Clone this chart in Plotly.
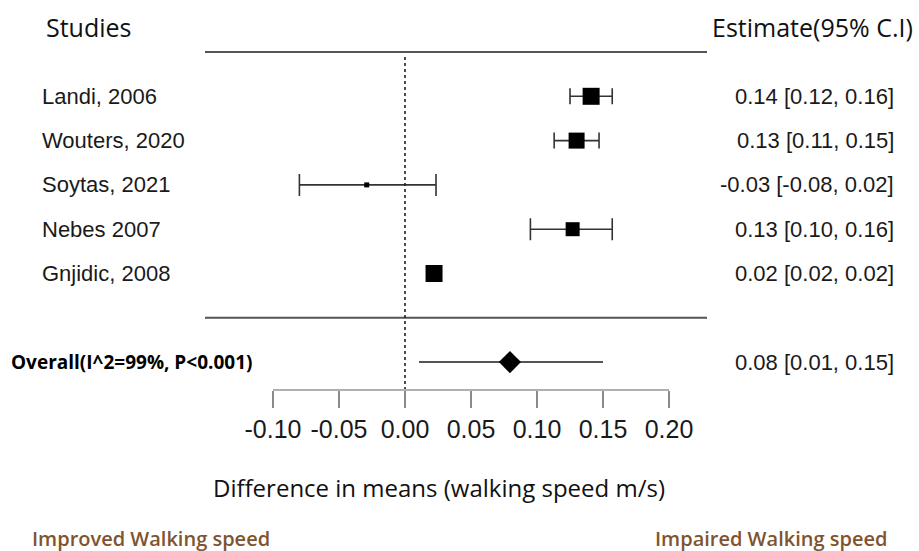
import plotly.graph_objects as go

# ---------------- data ----------------
studies = ["Landi, 2006", "Wouters, 2020", "Soytas, 2021", "Nebes 2007", "Gnjidic, 2008"]
estimate = [0.141, 0.130, -0.029, 0.127, 0.022]
ci_low = [0.125, 0.113, -0.080, 0.095, 0.021]
ci_high = [0.157, 0.147, 0.0235, 0.157, 0.023]
estimate_labels = ["0.14 [0.12, 0.16]", "0.13 [0.11, 0.15]", "-0.03 [-0.08, 0.02]",
                   "0.13 [0.10, 0.16]", "0.02 [0.02, 0.02]"]
rows = [7, 6, 5, 4, 3]

overall_label = "Overall(I^2=99%, P<0.001)"
overall_est = 0.0795
overall_low = 0.0106
overall_high = 0.150
overall_text = "0.08 [0.01, 0.15]"
overall_row = 1

tick_vals = [-0.10, -0.05, 0.0, 0.05, 0.10, 0.15, 0.20]
tick_text = ["-0.10", "-0.05", "0.00", "0.05", "0.10", "0.15", "0.20"]

# ---------------- styling ----------------
W, H = 919, 551
ZERO_PX, UNIT_PX = 405, 1320.0
L_PX, R_PX, T_PX, B_PX = 205, 707, 45, 390
ROW_PX = 44.3
TOPLINE_PX = 52
Y_TOP = 8 + (TOPLINE_PX - T_PX) / ROW_PX
Y_BOT = Y_TOP - (B_PX - T_PX) / ROW_PX
X_MIN = (L_PX - ZERO_PX) / UNIT_PX
X_MAX = (R_PX - ZERO_PX) / UNIT_PX

ARIAL = "Liberation Sans, Arial, sans-serif"
HUMAN = "Open Sans, Noto Sans, sans-serif"
BROWN = "#80542e"
TXT = "#1a1a1a"

box_size = [17, 16, 5, 14, 17]
cap_half = [8, 8, 11, 11, 0]


def px_x(px):
    return (px - L_PX) / (R_PX - L_PX)


def px_y(py):
    return (B_PX - py) / (B_PX - T_PX)


fig = go.Figure()

for i in range(len(studies)):
    fig.add_trace(go.Scatter(
        x=[estimate[i]], y=[rows[i]], mode="markers",
        marker=dict(symbol="square", size=box_size[i], color="black",
                    line=dict(width=0)),
        error_x=dict(type="data", symmetric=False,
                     array=[ci_high[i] - estimate[i]],
                     arrayminus=[estimate[i] - ci_low[i]],
                     color="#333333", thickness=1.6, width=cap_half[i]),
        showlegend=False, hoverinfo="skip", cliponaxis=False))

fig.add_trace(go.Scatter(
    x=[overall_low, overall_high], y=[overall_row, overall_row], mode="lines",
    line=dict(color="#555555", width=2), showlegend=False, hoverinfo="skip"))
fig.add_trace(go.Scatter(
    x=[overall_est], y=[overall_row], mode="markers",
    marker=dict(symbol="diamond", size=17, color="black"),
    showlegend=False, hoverinfo="skip", cliponaxis=False))

shapes = [
    dict(type="line", xref="paper", yref="y", x0=0, x1=1, y0=8, y1=8,
         line=dict(color="#555555", width=2)),
    dict(type="line", xref="paper", yref="y", x0=0, x1=1, y0=2, y1=2,
         line=dict(color="#555555", width=2)),
    dict(type="line", xref="x", yref="y", x0=0, x1=0, y0=Y_BOT, y1=7.93,
         line=dict(color="#222222", width=1.6, dash="dot")),
    dict(type="line", xref="x", yref="paper", x0=tick_vals[0], x1=tick_vals[-1],
         y0=0, y1=0, line=dict(color="#b0b0b0", width=2), layer="above"),
]

ann = []
for i in range(len(studies)):
    ann.append(dict(text=studies[i], xref="paper", yref="y", x=px_x(40), y=rows[i],
                    xanchor="left", yanchor="middle", showarrow=False,
                    font=dict(family=ARIAL, size=22, color=TXT)))
    ann.append(dict(text=estimate_labels[i], xref="paper", yref="y", x=px_x(896), y=rows[i],
                    xanchor="right", yanchor="middle", showarrow=False,
                    font=dict(family=ARIAL, size=22, color=TXT)))
ann.append(dict(text="<b>" + overall_label + "</b>", xref="paper", yref="y", x=px_x(9),
                y=overall_row, xanchor="left", yanchor="middle", showarrow=False,
                font=dict(family=HUMAN, size=19, color="black")))
ann.append(dict(text=overall_text, xref="paper", yref="y", x=px_x(896), y=overall_row,
                xanchor="right", yanchor="middle", showarrow=False,
                font=dict(family=ARIAL, size=22, color=TXT)))
ann.append(dict(text="Studies", xref="paper", yref="paper", x=px_x(44), y=px_y(27),
                xanchor="left", yanchor="middle", showarrow=False,
                font=dict(family=HUMAN, size=25, color="#111111")))
ann.append(dict(text="Estimate(95% C.I)", xref="paper", yref="paper", x=px_x(915), y=px_y(27),
                xanchor="right", yanchor="middle", showarrow=False,
                font=dict(family=HUMAN, size=25, color="#111111")))
ann.append(dict(text="Difference in means (walking speed m/s)", xref="paper", yref="paper",
                x=px_x(439), y=px_y(487), xanchor="center", yanchor="middle", showarrow=False,
                font=dict(family=HUMAN, size=24, color="#111111")))
ann.append(dict(text="Improved Walking speed", xref="paper", yref="paper",
                x=px_x(30), y=px_y(538), xanchor="left", yanchor="middle", showarrow=False,
                font=dict(family=HUMAN, size=20, color=BROWN, weight=600)))
ann.append(dict(text="Impaired Walking speed", xref="paper", yref="paper",
                x=px_x(889), y=px_y(538), xanchor="right", yanchor="middle", showarrow=False,
                font=dict(family=HUMAN, size=20, color=BROWN, weight=600)))

fig.update_layout(
    width=W, height=H,
    margin=dict(l=L_PX, r=W - R_PX, t=T_PX, b=H - B_PX, pad=0),
    paper_bgcolor="white", plot_bgcolor="white",
    shapes=shapes, annotations=ann,
    xaxis=dict(range=[X_MIN, X_MAX], tickvals=tick_vals, ticktext=tick_text,
               ticks="outside", ticklen=17, tickwidth=2, tickcolor="#8a8a8a",
               showline=False, showgrid=False, zeroline=False,
               tickfont=dict(family=ARIAL, size=25, color=TXT),
               fixedrange=True),
    yaxis=dict(range=[Y_BOT, Y_TOP], visible=False, fixedrange=True),
)

fig.write_html("out.html")
